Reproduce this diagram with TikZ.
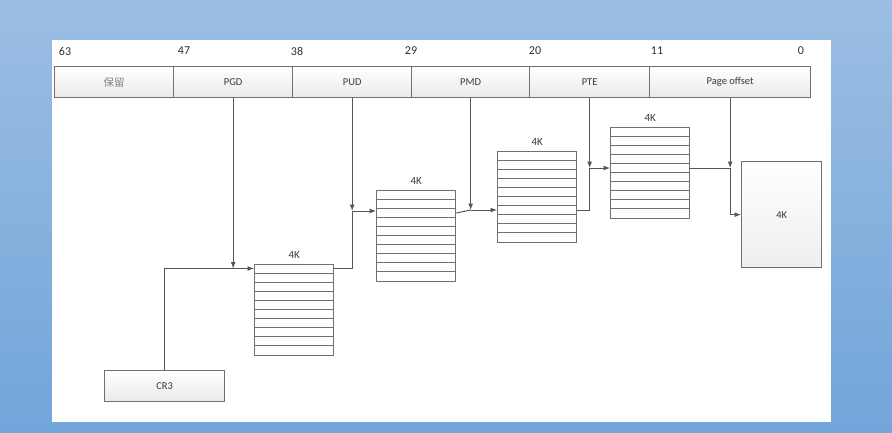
\documentclass[tikz,border=0pt]{standalone}
\usepackage{fontspec}
\setmainfont{Carlito}
\newfontfamily\cjk{Noto Sans CJK SC}
\usetikzlibrary{arrows.meta,calc}
\definecolor{bgtop}{HTML}{9CBEE3}
\definecolor{bgbot}{HTML}{72A5DA}
\definecolor{edge}{HTML}{707070}
\definecolor{txt}{HTML}{3A3A3A}
\definecolor{numc}{HTML}{303030}
\definecolor{cellgray}{HTML}{EAEAEA}
\definecolor{connc}{HTML}{555555}
\begin{document}
\begin{tikzpicture}[x=1pt,y=-1pt]
\tikzset{
  cell/.style={draw=edge, line width=1.3pt, top color=white, bottom color=cellgray, minimum height=31pt, inner sep=0pt, anchor=north west, text=txt, font=\fontsize{10.5}{12}\selectfont},
  bitnum/.style={text=numc, font=\fontsize{12}{14}\selectfont, inner sep=0pt},
  tbl/.style={draw=edge, line width=1.3pt, fill=white, minimum width=79pt, minimum height=91pt, inner sep=0pt, anchor=north west},
  rowline/.style={draw=edge, line width=1.1pt},
  klabel/.style={text=txt, font=\fontsize{11}{12}\selectfont, inner sep=0pt},
  conn/.style={draw=connc, line width=1pt},
  arr/.style={conn, -{Latex[length=6.5pt,width=5pt]}},
}
\useasboundingbox (0,0) rectangle (892,432);
\shade[top color=bgtop, bottom color=bgbot] (0,0) rectangle (892,432);
\fill[white] (52,40) rectangle (831,422);

% bit numbers
\node[bitnum] (n63) at (65,51) {63};
\node[bitnum] (n47) at (184,51) {47};
\node[bitnum] (n38) at (297,51) {38};
\node[bitnum] (n29) at (411,51) {29};
\node[bitnum] (n20) at (535,51) {20};
\node[bitnum] (n11) at (657,51) {11};
\node[bitnum] (n0) at (801,51) {0};

% bit fields
\node[cell, minimum width=119pt, text=gray] (rsv) at (54,66) {\cjk 保留};
\node[cell, minimum width=119pt] (pgd) at (173,66) {PGD};
\node[cell, minimum width=119pt] (pud) at (292,66) {PUD};
\node[cell, minimum width=118pt] (pmd) at (411,66) {PMD};
\node[cell, minimum width=120pt] (pte) at (529,66) {PTE};
\node[cell, minimum width=161pt] (off) at (649,66) {Page offset};

% tables
\node[tbl] (t1) at (254,264) {};
\node[tbl] (t2) at (376,190) {};
\node[tbl] (t3) at (497,151) {};
\node[tbl] (t4) at (610,127) {};
\foreach \tb in {t1,t2,t3,t4}{
  \foreach \i in {1,...,9}{
    \draw[rowline] ($(\tb.north west)+(0,\i*9.1)$) -- ($(\tb.north east)+(0,\i*9.1)$);
  }
}
\node[klabel] (k1) at ($(t1.north)+(0,-9)$) {4K};
\node[klabel] (k2) at ($(t2.north)+(0,-9)$) {4K};
\node[klabel] (k3) at ($(t3.north)+(0,-9)$) {4K};
\node[klabel] (k4) at ($(t4.north)+(0,-9)$) {4K};

% page and CR3
\node[cell, minimum width=80pt, minimum height=106pt, top color=white, bottom color=cellgray!80] (pg) at (741,161) {4K};
\node[cell, minimum width=120pt, minimum height=31pt] (cr3) at (104,370) {CR3};

% entry / exit points
\coordinate (e1) at ($(t1.north west)+(0,4.5)$);
\coordinate (x1) at ($(t1.north east)+(0,4.5)$);
\coordinate (e2) at ($(t2.north west)+(0,21)$);
\coordinate (x2) at ($(t2.north east)+(0,23)$);
\coordinate (e3) at ($(t3.north west)+(0,59)$);
\coordinate (x3) at ($(t3.north east)+(0,59)$);
\coordinate (e4) at ($(t4.north west)+(0,41)$);
\coordinate (x4) at ($(t4.north east)+(0,41)$);
\coordinate (j1) at (pgd.south |- e1);
\coordinate (j2) at (pud.south |- e2);
\coordinate (j3) at (pmd.south |- e3);
\coordinate (j4) at (pte.south |- e4);
\coordinate (j5) at (off.south |- e4);

% connectors
\draw[conn] (cr3.north) |- (j1);
\draw[arr] (j1) -- (e1);
\draw[arr] (pgd.south) -- (j1);
\draw[conn] (x1) -| (j2);
\draw[arr] (pud.south) -- (j2);
\draw[arr] (j2) -- (e2);
\draw[conn] (x2) -- (j3);
\draw[arr] (pmd.south) -- (j3);
\draw[arr] (j3) -- (e3);
\draw[conn] (x3) -| (j4);
\draw[arr] (pte.south) -- (j4);
\draw[arr] (j4) -- (e4);
\draw[conn] (x4) -- (j5);
\draw[arr] (off.south) -- (j5);
\draw[arr] (j5) |- (pg.west);
\end{tikzpicture}
\end{document}
